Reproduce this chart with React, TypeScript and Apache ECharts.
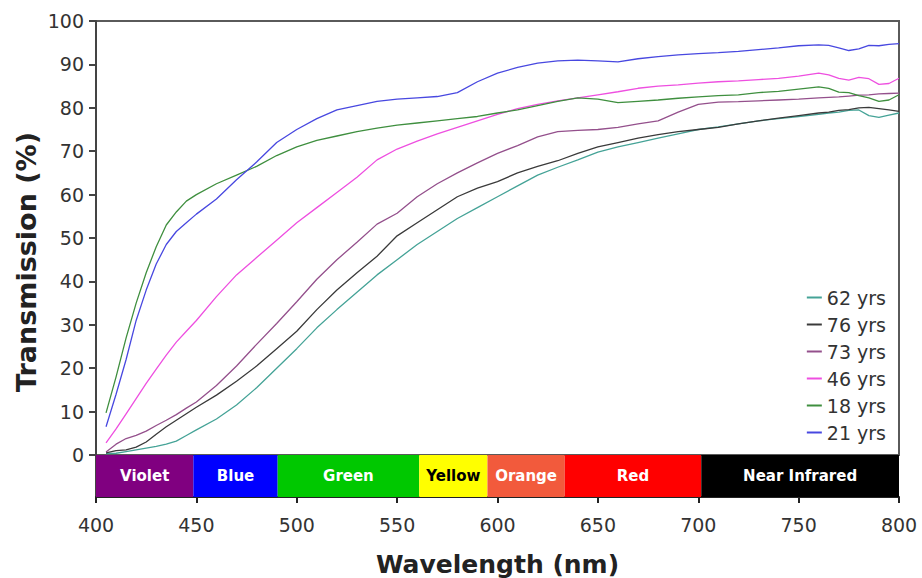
import React, { useEffect, useRef } from "react";
import * as echarts from "echarts";

const wavelengths = [405, 410, 415, 420, 425, 430, 435, 440, 445, 450, 460, 470, 480, 490, 500, 510, 520, 530, 540, 550, 560, 570, 580, 590, 600, 610, 620, 630, 640, 650, 660, 670, 680, 690, 700, 710, 720, 730, 740, 750, 760, 765, 770, 775, 780, 785, 790, 795, 800];

const t62 = [0.3, 0.4, 0.8, 1.2, 1.6, 2, 2.5, 3.2, 4.5, 5.8, 8.3, 11.5, 15.5, 20, 24.5, 29.3, 33.5, 37.5, 41.5, 45, 48.5, 51.5, 54.5, 57, 59.5, 62, 64.5, 66.3, 68, 69.8, 71, 72, 73, 74, 75, 75.6, 76.3, 77, 77.5, 78, 78.5, 78.8, 79, 79.4, 79.5, 78.2, 77.8, 78.3, 78.8];
const t76 = [0.5, 1, 1.2, 1.8, 3, 4.8, 6.5, 8, 9.5, 11, 13.8, 17, 20.5, 24.5, 28.5, 33.5, 38, 42, 45.8, 50.5, 53.5, 56.5, 59.5, 61.5, 63, 65, 66.5, 67.8, 69.5, 71, 72, 73, 73.8, 74.5, 75, 75.5, 76.3, 77, 77.6, 78.2, 78.8, 79, 79.4, 79.6, 80, 80.1, 79.8, 79.5, 79.2];
const t73 = [0.7, 2.5, 3.8, 4.5, 5.5, 6.8, 8, 9.3, 10.8, 12.2, 16, 20.5, 25.5, 30.3, 35.3, 40.5, 45, 49, 53.2, 55.7, 59.5, 62.5, 65, 67.3, 69.5, 71.3, 73.3, 74.5, 74.8, 75, 75.5, 76.3, 77, 79, 80.8, 81.3, 81.4, 81.6, 81.8, 82, 82.3, 82.4, 82.5, 82.7, 82.9, 83, 83.2, 83.3, 83.4];
const t46 = [2.8, 6, 9.5, 13, 16.5, 19.8, 23, 26, 28.5, 31, 36.5, 41.5, 45.5, 49.5, 53.5, 57, 60.5, 64, 68, 70.5, 72.3, 74, 75.5, 77, 78.5, 79.8, 80.8, 81.6, 82.3, 83, 83.7, 84.5, 85, 85.3, 85.7, 86, 86.2, 86.5, 86.8, 87.3, 88, 87.6, 86.8, 86.4, 87, 86.7, 85.4, 85.6, 86.8];
const t18 = [9.7, 18, 27, 35, 42, 48, 53, 56, 58.5, 60, 62.5, 64.5, 66.5, 69, 71, 72.5, 73.5, 74.5, 75.3, 76, 76.5, 77, 77.5, 78, 78.8, 79.5, 80.5, 81.5, 82.3, 82, 81.2, 81.5, 81.8, 82.2, 82.5, 82.8, 83, 83.5, 83.8, 84.3, 84.8, 84.5, 83.6, 83.5, 82.8, 82.3, 81.5, 81.8, 83];
const t21 = [6.5, 14, 22, 31, 38, 44, 48.5, 51.5, 53.5, 55.5, 59, 63.4, 67.5, 72, 75, 77.5, 79.5, 80.5, 81.5, 82, 82.3, 82.6, 83.5, 86, 88, 89.3, 90.3, 90.8, 91, 90.8, 90.6, 91.3, 91.8, 92.2, 92.5, 92.7, 93, 93.4, 93.8, 94.3, 94.5, 94.4, 93.8, 93.2, 93.6, 94.4, 94.3, 94.6, 94.8];

const seriesNames = ["62 yrs", "76 yrs", "73 yrs", "46 yrs", "18 yrs", "21 yrs"];
const seriesValues = [t62, t76, t73, t46, t18, t21];
const seriesColors = ["#45a397", "#3a3a3a", "#94508c", "#ee4fe0", "#3f8f3f", "#4848e0"];

const bandEdges = [400, 448.5, 490.5, 561, 595, 633.5, 701.5, 800];
const bandNames = ["Violet", "Blue", "Green", "Yellow", "Orange", "Red", "Near Infrared"];
const bandColors = ["#800080", "#0000ff", "#00c800", "#ffff00", "#f25a3c", "#ff0000", "#000000"];
const bandTextColors = ["#ffffff", "#ffffff", "#ffffff", "#000000", "#ffffff", "#ffffff", "#ffffff"];

const xTicks = { min: 400, max: 800, interval: 50 };
const yTicks = { min: 0, max: 100, interval: 10 };

const xTitle = "Wavelength (nm)";
const yTitle = "Transmission (%)";

const FONT = "DejaVu Sans, Verdana, sans-serif";

export default function App() {
  const ref = useRef<HTMLDivElement>(null);
  useEffect(() => {
    if (!ref.current) return;
    const chart = echarts.init(ref.current, null, { renderer: "svg" });
    const bandData = bandNames.map((n, i) => [bandEdges[i], bandEdges[i + 1], i]);
    const option: any = {
      animation: false,
      backgroundColor: "#ffffff",
      textStyle: { fontFamily: FONT },
      grid: [
        { left: 96, top: 21, width: 803, height: 434, show: true, borderColor: "#5a5a5a", borderWidth: 2, backgroundColor: "transparent" },
        { left: 96, top: 455, width: 803, height: 42 },
      ],
      graphic: [
        {
          type: "text", x: 26, y: 262, rotation: Math.PI / 2,
          style: { text: yTitle, font: `bold 27px ${FONT}`, fill: "#222", align: "center", verticalAlign: "middle" },
        },
      ],
      xAxis: [
        { type: "value", gridIndex: 0, min: xTicks.min, max: xTicks.max, interval: xTicks.interval, show: false },
        {
          type: "value", gridIndex: 1, min: xTicks.min, max: xTicks.max, interval: xTicks.interval,
          axisLine: { show: true, lineStyle: { color: "#222", width: 2 } },
          axisTick: { show: true, length: 6, lineStyle: { color: "#222", width: 2 } },
          axisLabel: { fontSize: 19, color: "#333", margin: 18, fontFamily: FONT },
          splitLine: { show: false },
          name: xTitle, nameLocation: "middle", nameGap: 55,
          nameTextStyle: { fontSize: 25, fontWeight: "bold", color: "#222", fontFamily: FONT },
        },
      ],
      yAxis: [
        {
          type: "value", gridIndex: 0, min: yTicks.min, max: yTicks.max, interval: yTicks.interval,
          axisLine: { show: true, lineStyle: { color: "#444", width: 2 } },
          axisTick: { show: true, length: 7, lineStyle: { color: "#444", width: 2 } },
          axisLabel: { fontSize: 19, color: "#333", margin: 12, fontFamily: FONT },
          splitLine: { show: false },
        },
        {
          type: "value", gridIndex: 1, min: 0, max: 1,
          axisLine: { show: true, lineStyle: { color: "#444", width: 2 } },
          axisTick: { show: false }, axisLabel: { show: false }, splitLine: { show: false },
        },
      ],
      legend: {
        orient: "vertical", right: 31, top: 283, itemGap: 8, itemWidth: 15, itemHeight: 2,
        icon: "rect", align: "left",
        textStyle: { fontSize: 19, color: "#333", fontFamily: FONT },
        data: seriesNames,
      },
      series: [
        ...seriesNames.map((name, i) => ({
          type: "line", name, xAxisIndex: 0, yAxisIndex: 0,
          data: wavelengths.map((w, j) => [w, seriesValues[i][j]]),
          showSymbol: false, symbol: "none",
          lineStyle: { color: seriesColors[i], width: 1.3 },
          itemStyle: { color: seriesColors[i] },
        })),
        {
          type: "custom", xAxisIndex: 1, yAxisIndex: 1, data: bandData, silent: true,
          encode: { x: [0, 1] },
          renderItem: (params: any, api: any) => {
            const idx = api.value(2);
            const s = api.coord([api.value(0), 1]);
            const e = api.coord([api.value(1), 0]);
            return {
              type: "group",
              children: [
                { type: "rect", shape: { x: s[0], y: s[1], width: e[0] - s[0], height: e[1] - s[1] }, style: { fill: bandColors[idx] } },
                {
                  type: "text", x: (s[0] + e[0]) / 2, y: (s[1] + e[1]) / 2,
                  style: { text: bandNames[idx], fill: bandTextColors[idx], font: `bold 15px ${FONT}`, align: "center", verticalAlign: "middle" },
                },
              ],
            };
          },
        },
      ],
    };
    chart.setOption(option);
    return () => chart.dispose();
  }, []);
  return <div ref={ref} style={{ position: "fixed", left: 0, top: 0, width: 922, height: 578 }} />;
}
